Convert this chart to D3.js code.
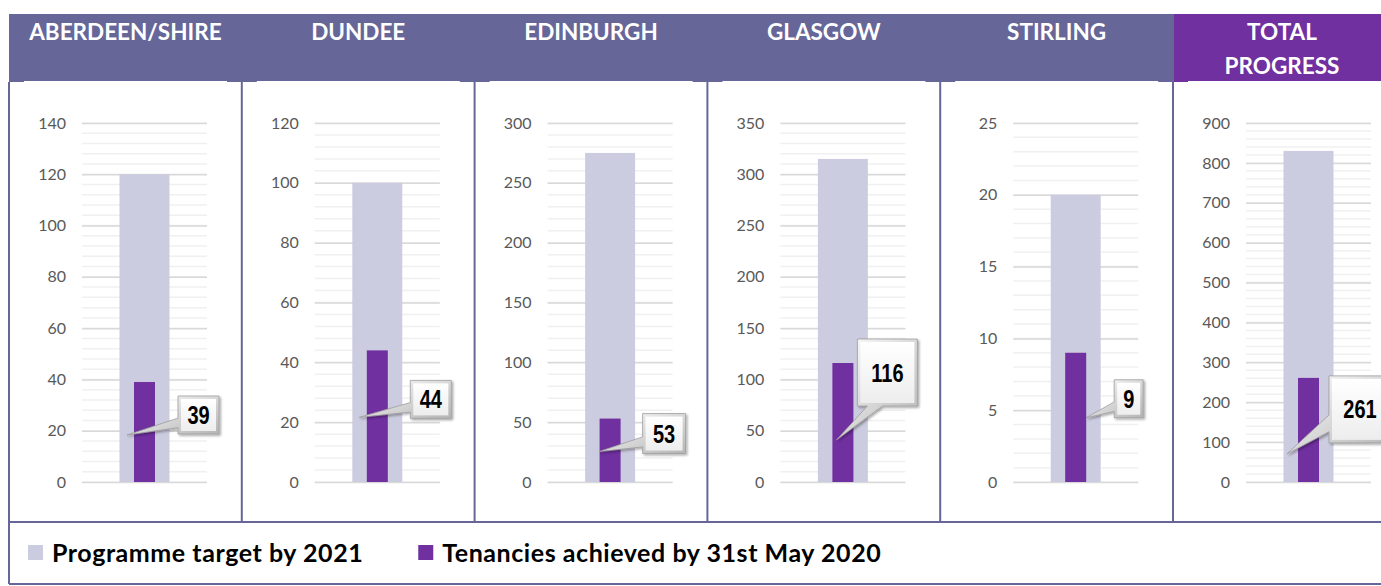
<!DOCTYPE html>
<html>
<head>
<meta charset="utf-8">
<script src="https://cdn.jsdelivr.net/npm/d3@7"></script>
<style>
  body { margin: 0; background: #fff; }
  svg { display: block; font-family: Lato, "Open Sans", sans-serif; }
</style>
</head>
<body>
<div id="chart"></div>
<script>
// values
const regions = ["ABERDEEN/SHIRE", "DUNDEE", "EDINBURGH", "GLASGOW", "STIRLING", "TOTAL PROGRESS"];
const targets = [120, 100, 275, 315, 20, 830];
const achieved = [39, 44, 53, 116, 9, 261];
const axisMax = [140, 120, 300, 350, 25, 900];
const tickSteps = [20, 20, 50, 50, 5, 100];
const seriesNames = ["Programme target by 2021", "Tenancies achieved by 31st May 2020"];

// callout placement (box offset from bar top, box size, tip offset) - dragged by hand in the original
const calloutLayout = [
    { dx: 33.5, dy: 14, w: 41, h: 38, tdx: -17.5, tdy: 53 },
    { dx: 33, dy: 30, w: 41, h: 38, tdx: -18, tdy: 67 },
    { dx: 32.5, dy: -5, w: 43, h: 40, tdx: -11, tdy: 33 },
    { dx: 14.5, dy: -24, w: 60, h: 67, tdx: -6.5, tdy: 77 },
    { dx: 38.5, dy: 27, w: 29, h: 38, tdx: 10.5, tdy: 65 },
    { dx: 20.5, dy: -2, w: 62, h: 67, tdx: -21.5, tdy: 76 }
];

const width = 1381;
const height = 586;
const headColor = "#666699";
const totalColor = "#7030A0";
const targetColor = "#CCCCE0";
const achievedColor = "#7030A0";

const svg = d3.select("#chart")
    .append("svg")
        .attr("width", width)
        .attr("height", height);

const defs = svg.append("defs");
const outerGrad = defs.append("linearGradient").attr("id", "calloutOuter")
    .attr("x1", 0).attr("y1", 0).attr("x2", 1).attr("y2", 1);
outerGrad.append("stop").attr("offset", 0).attr("stop-color", "#ffffff");
outerGrad.append("stop").attr("offset", 1).attr("stop-color", "#b4b4b4");
const innerGrad = defs.append("linearGradient").attr("id", "calloutInner")
    .attr("x1", 0).attr("y1", 0).attr("x2", 0).attr("y2", 1);
innerGrad.append("stop").attr("offset", 0).attr("stop-color", "#ffffff");
innerGrad.append("stop").attr("offset", 1).attr("stop-color", "#ededed");
defs.append("filter").attr("id", "shadow")
    .attr("x", "-20%").attr("y", "-20%").attr("width", "150%").attr("height", "150%")
    .append("feDropShadow")
        .attr("dx", 1.5).attr("dy", 1.5).attr("stdDeviation", 1.2)
        .attr("flood-color", "#000").attr("flood-opacity", 0.35);

// panel columns of the table
const panelWidth = 232.8;
const panels = d3.scaleBand()
    .domain(regions)
    .range([9, 9 + panelWidth * regions.length])
    .padding(0);

const headTop = 14, headBottom = 82, rowBottom = 522, legendBottom = 584;
const plotTop = 123, plotBottom = 482;

//header band
svg.append("rect")
    .attr("x", 9).attr("y", headTop)
    .attr("width", width - 9).attr("height", headBottom - headTop)
    .attr("fill", headColor);
svg.append("rect")
    .attr("x", panels(regions[5]) + 1).attr("y", headTop)
    .attr("width", width - panels(regions[5])).attr("height", headBottom - headTop)
    .attr("fill", totalColor);

//header labels, the total one breaks onto two lines
regions.forEach((r, i) => {
    const cx = i === 5 ? 1282 : panels(r) + panels.bandwidth() / 2;
    const lines = i === 5 ? r.split(" ") : [r];
    const t = svg.append("text")
        .attr("text-anchor", "middle")
        .attr("fill", "#fff")
        .attr("font-weight", 700)
        .attr("font-size", "22.5px");
    lines.forEach((l, j) => {
        t.append("tspan").attr("x", cx).attr("y", 40 + j * 34).text(l);
    });
});

function calloutPath(x, y, w, h, tx, ty) {
    const dxPos = tx - (x + w / 2), dyPos = ty - (y + h / 2);
    const dz = Math.abs(dxPos * h) - Math.abs(dyPos * w);
    const x1 = x + w * (dxPos > 0 ? 7 : 2) / 12, x2 = x + w * (dxPos > 0 ? 10 : 5) / 12;
    const y1 = y + h * (dyPos > 0 ? 7 : 2) / 12, y2 = y + h * (dyPos > 0 ? 10 : 5) / 12;
    let p = `M${x},${y}`;
    if (dz <= 0 && dyPos < 0) p += `L${x1},${y}L${tx},${ty}L${x2},${y}`;
    p += `L${x + w},${y}`;
    if (dz > 0 && dxPos > 0) p += `L${x + w},${y1}L${tx},${ty}L${x + w},${y2}`;
    p += `L${x + w},${y + h}`;
    if (dz <= 0 && dyPos > 0) p += `L${x2},${y + h}L${tx},${ty}L${x1},${y + h}`;
    p += `L${x},${y + h}`;
    if (dz > 0 && dxPos < 0) p += `L${x},${y2}L${tx},${ty}L${x},${y1}`;
    return p + "Z";
}

//one small chart per region
regions.forEach((r, i) => {
    const bx = panels(r);
    const g = svg.append("g");

    //chart background (its top edge nips into the header)
    g.append("rect")
        .attr("x", bx + 15).attr("y", headBottom - 1)
        .attr("width", 203).attr("height", rowBottom - headBottom)
        .attr("fill", "#fff");

    const y = d3.scaleLinear().domain([0, axisMax[i]]).range([plotBottom, plotTop]);
    const left = bx + 73, right = bx + 198;
    const cx = bx + 135.5;

    //minor gridlines
    const minor = d3.range(0, axisMax[i] + 1e-9, tickSteps[i] / 5);
    g.selectAll(".minor")
        .data(minor)
        .enter()
        .append("line")
            .attr("x1", left).attr("x2", right)
            .attr("y1", d => y(d)).attr("y2", d => y(d))
            .attr("stroke", "#f0f0f0")
            .attr("stroke-width", 1.5);

    //major gridlines + labels
    const major = d3.range(0, axisMax[i] + 1e-9, tickSteps[i]);
    const axis = g.append("g")
        .attr("transform", `translate(${left},0)`)
        .call(d3.axisLeft(y).tickValues(major).tickSize(left - right).tickPadding(16));
    axis.select(".domain").remove();
    axis.selectAll(".tick line").attr("stroke", "#d9d9d9").attr("stroke-width", 1.5);
    axis.selectAll(".tick text")
        .attr("fill", "#595959")
        .style("font-family", "Lato, sans-serif")
        .style("font-size", "16px");

    //target bar
    g.append("rect")
        .attr("x", cx - 25).attr("width", 50)
        .attr("y", y(targets[i])).attr("height", y(0) - y(targets[i]))
        .attr("fill", targetColor);
    //achieved bar
    g.append("rect")
        .attr("x", cx - 10.5).attr("width", 21)
        .attr("y", y(achieved[i])).attr("height", y(0) - y(achieved[i]))
        .attr("fill", achievedColor);

    //callout label
    const c = calloutLayout[i];
    const top = y(achieved[i]);
    const bxx = cx + c.dx, byy = top + c.dy;
    const cg = g.append("g");
    cg.append("path")
        .attr("d", calloutPath(bxx, byy, c.w, c.h, cx + c.tdx, top + c.tdy))
        .attr("fill", "url(#calloutOuter)")
        .attr("stroke", "#9a9a9a")
        .attr("stroke-width", 0.75)
        .attr("filter", "url(#shadow)");
    cg.append("rect")
        .attr("x", bxx + 3).attr("y", byy + 3)
        .attr("width", c.w - 6).attr("height", c.h - 6)
        .attr("fill", "url(#calloutInner)");
    // narrow bold figure, squeezed horizontally
    cg.append("text")
        .attr("transform", `translate(${bxx + c.w / 2},${byy + c.h / 2}) scale(0.8,1)`)
        .attr("dy", "0.36em")
        .attr("text-anchor", "middle")
        .attr("font-family", "'Liberation Sans', Arial, sans-serif")
        .attr("font-weight", 700)
        .attr("font-size", "25px")
        .attr("fill", "#000")
        .text(achieved[i]);
});

//table borders
const borders = svg.append("g").attr("stroke", headColor).attr("stroke-width", 2);
regions.forEach(r => {
    borders.append("line")
        .attr("x1", panels(r)).attr("x2", panels(r))
        .attr("y1", headBottom).attr("y2", rowBottom);
});
borders.append("line").attr("x1", 9).attr("x2", 9).attr("y1", headBottom).attr("y2", legendBottom);
borders.append("line").attr("x1", 9).attr("x2", width).attr("y1", rowBottom).attr("y2", rowBottom);
borders.append("line").attr("x1", 9).attr("x2", width).attr("y1", legendBottom).attr("y2", legendBottom);

//legend
const legend = svg.append("g");
let lx = 28;
seriesNames.forEach((name, i) => {
    legend.append("rect")
        .attr("x", lx).attr("y", 545)
        .attr("width", 15).attr("height", 15)
        .attr("fill", i === 0 ? targetColor : achievedColor);
    const t = legend.append("text")
        .attr("x", lx + 24).attr("y", 562)
        .attr("font-weight", 700)
        .attr("font-size", "25px")
        .attr("letter-spacing", "0.55px")
        .attr("fill", "#000")
        .text(name);
    lx = lx + 24 + t.node().getComputedTextLength() + 55;
});
</script>
</body>
</html>
